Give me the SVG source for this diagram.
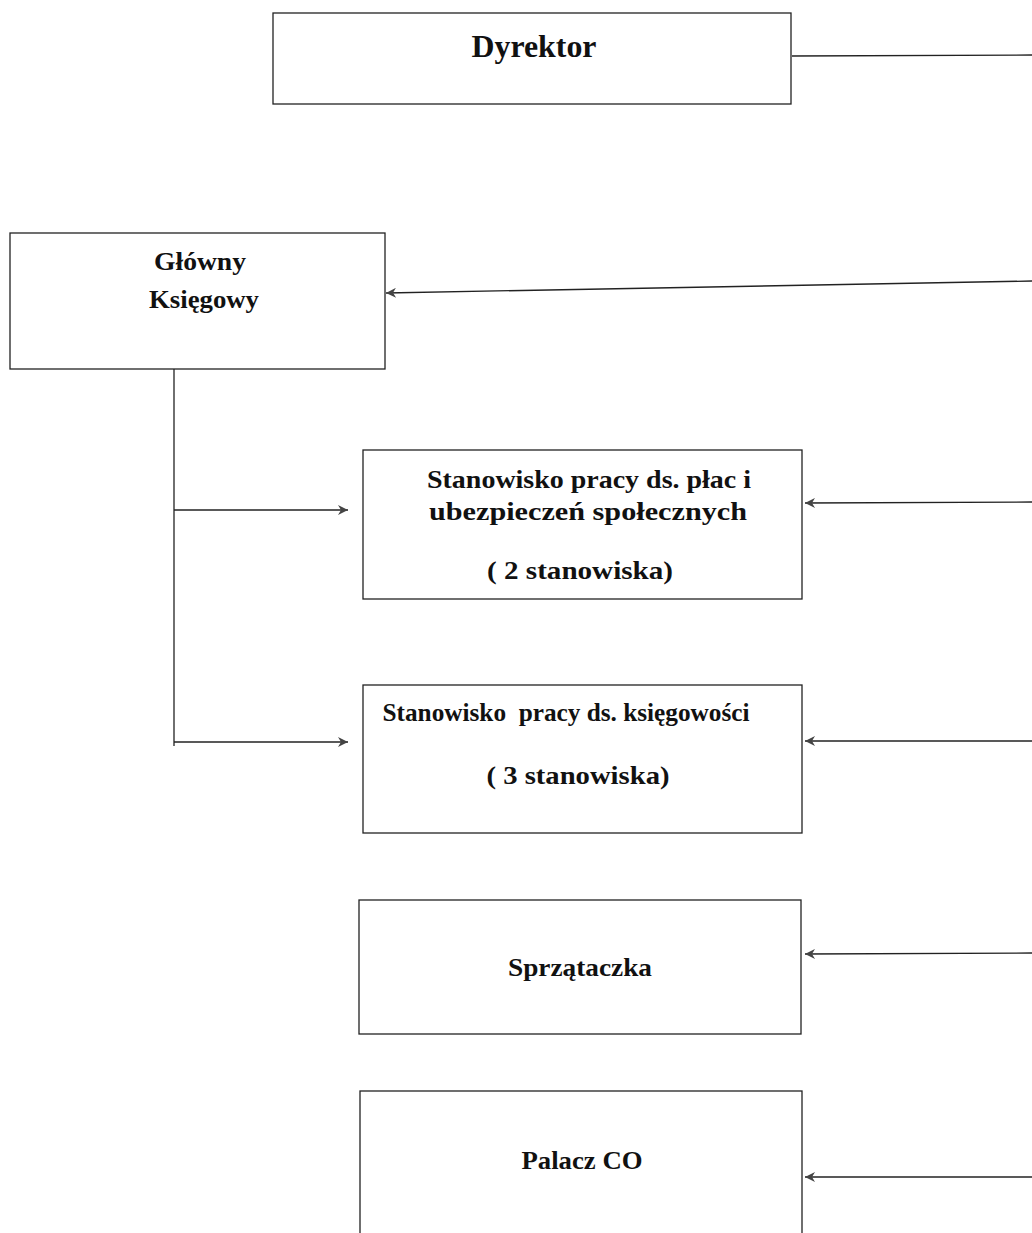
<svg xmlns="http://www.w3.org/2000/svg" width="1032" height="1233" viewBox="0 0 1032 1233">
<style>
.box{fill:#fff;stroke:#222;stroke-width:1.3}
.t{font-family:"Liberation Serif","Times New Roman",serif;font-weight:bold;fill:#111;text-anchor:middle;font-size:26px}
.c{fill:none;stroke:#222;stroke-width:1.3}
</style>
<defs>
<marker id="ah" viewBox="0 0 10 10" refX="10" refY="5" markerWidth="12" markerHeight="10" markerUnits="userSpaceOnUse" orient="auto">
<path d="M0,0 L10,5 L0,10 L3,5 Z" fill="#444"/>
</marker>
</defs>
<rect width="1032" height="1233" fill="#fff"/>
<g id="connectors">
<line class="c" x1="792" y1="56" x2="1032" y2="55"/>
<line class="c" x1="1032" y1="281" x2="386" y2="293" marker-end="url(#ah)"/>
<line class="c" x1="174" y1="366" x2="174" y2="746"/>
<line class="c" x1="174" y1="510" x2="348" y2="510" marker-end="url(#ah)"/>
<line class="c" x1="174" y1="742" x2="348" y2="742" marker-end="url(#ah)"/>
<line class="c" x1="1032" y1="502" x2="805" y2="503" marker-end="url(#ah)"/>
<line class="c" x1="1032" y1="741" x2="805" y2="741" marker-end="url(#ah)"/>
<line class="c" x1="1032" y1="953" x2="805" y2="954" marker-end="url(#ah)"/>
<line class="c" x1="1032" y1="1177" x2="805" y2="1177" marker-end="url(#ah)"/>
</g>
<g id="dyrektor">
<rect class="box" x="273" y="13" width="518" height="91"/>
<text class="t" x="534" y="57" style="font-size:32px" textLength="125" lengthAdjust="spacingAndGlyphs">Dyrektor</text>
</g>
<g id="glowny-ksiegowy">
<rect class="box" x="10" y="233" width="375" height="136"/>
<text class="t" x="200" y="270" textLength="92" lengthAdjust="spacingAndGlyphs">Główny</text>
<text class="t" x="204" y="308" textLength="110" lengthAdjust="spacingAndGlyphs">Księgowy</text>
</g>
<g id="place">
<rect class="box" x="363" y="450" width="439" height="149"/>
<text class="t" x="589" y="488" textLength="324" lengthAdjust="spacingAndGlyphs">Stanowisko pracy ds. płac i</text>
<text class="t" x="588" y="520" textLength="318" lengthAdjust="spacingAndGlyphs">ubezpieczeń społecznych</text>
<text class="t" x="580" y="579" textLength="186" lengthAdjust="spacingAndGlyphs">( 2 stanowiska)</text>
</g>
<g id="ksiegowosc">
<rect class="box" x="363" y="685" width="439" height="148"/>
<text class="t" x="566" y="721" textLength="367" lengthAdjust="spacingAndGlyphs" xml:space="preserve">Stanowisko  pracy ds. księgowości</text>
<text class="t" x="578" y="784" textLength="183" lengthAdjust="spacingAndGlyphs">( 3 stanowiska)</text>
</g>
<g id="sprzataczka">
<rect class="box" x="359" y="900" width="442" height="134"/>
<text class="t" x="580" y="976" textLength="144" lengthAdjust="spacingAndGlyphs">Sprzątaczka</text>
</g>
<g id="palacz">
<rect class="box" x="360" y="1091" width="442" height="150"/>
<text class="t" x="582" y="1169" textLength="121" lengthAdjust="spacingAndGlyphs">Palacz CO</text>
</g>
</svg>
